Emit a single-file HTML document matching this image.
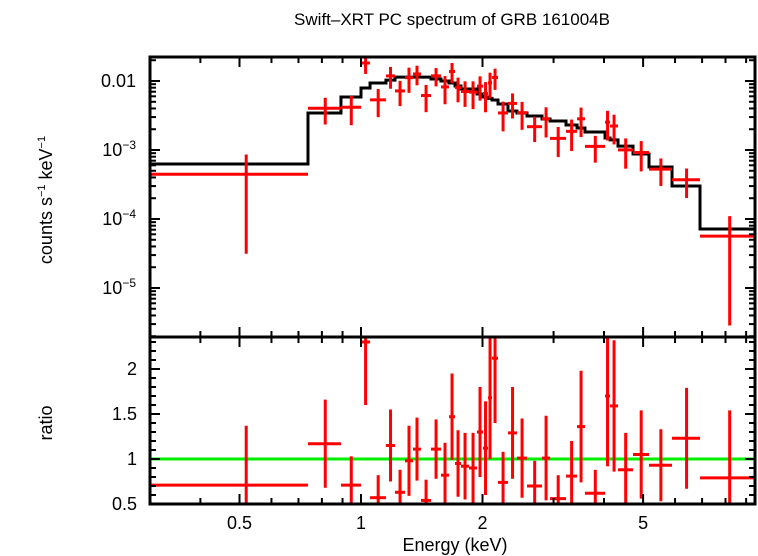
<!DOCTYPE html>
<html><head><meta charset="utf-8"><style>
html,body{margin:0;padding:0;background:#fff;}
svg{display:block;}
text{font-family:"Liberation Sans",sans-serif;fill:#000;}
</style></head><body>
<svg id="chart" width="758" height="556" viewBox="0 0 758 556" xmlns="http://www.w3.org/2000/svg">
<text x="452" y="25" font-size="17" text-anchor="middle">Swift–XRT PC spectrum of GRB 161004B</text>
<text x="455" y="551" font-size="18" text-anchor="middle">Energy (keV)</text>
<text transform="translate(52,200) rotate(-90)" font-size="18" text-anchor="middle">counts s<tspan dy="-7" font-size="11">−1</tspan><tspan dy="7"> keV</tspan><tspan dy="-7" font-size="11">−1</tspan></text>
<text transform="translate(52,423) rotate(-90)" font-size="18" text-anchor="middle">ratio</text>
<g id="layer"></g>
</svg>
<script>
// bin edges (keV)
const binEdges = [0.300,0.739,0.892,1.000,1.053,1.153,1.214,1.285,1.345,1.408,1.491,1.578,1.652,1.710,1.769,1.852,1.938,2.006,2.064,2.112,2.185,2.313,2.435,2.578,2.809,2.940,3.221,3.430,3.589,4.024,4.140,4.333,4.721,5.171,5.897,6.918,9.47];
// model (counts s^-1 keV^-1) per bin
const modelVals = [6.27e-4,3.44e-3,5.87e-3,7.92e-3,9.35e-3,0.0103,0.0114,0.0114,0.0114,0.0114,0.0107,0.0100,0.00935,0.00847,0.00766,0.00766,0.00649,0.00587,0.0056,0.00531,0.00465,0.00367,0.00344,0.00311,0.00281,0.00263,0.0023,0.00208,0.00182,0.00149,0.0014,0.00114,8.75e-4,5.67e-4,3.01e-4,7.16e-5];
// data/model ratio per bin
const ratioVals = [0.71,1.17,0.71,2.30,0.57,1.15,0.63,0.98,1.11,0.54,1.11,0.82,1.47,0.95,0.92,0.90,1.30,1.12,1.68,2.12,0.74,1.29,1.01,0.70,1.01,0.56,0.81,1.36,0.62,1.70,1.59,0.88,1.05,0.93,1.23,0.79];
const ratioErrs = [0.66,0.49,0.32,0.70,0.25,0.40,0.25,0.39,0.35,0.23,0.33,0.36,0.48,0.37,0.37,0.39,0.50,0.52,0.68,0.72,0.34,0.51,0.44,0.28,0.47,0.26,0.39,0.62,0.26,0.78,0.73,0.41,0.49,0.40,0.56,0.75];
const xTicksMajor = [0.5,1,2,5];
const xTickLabels = ["0.5","1","2","5"];
const yTopMajor = [1e-2,1e-3,1e-4,1e-5];
const yRatioMajor = [0.5,1,1.5,2];
const yRatioLabels = ["0.5","1","1.5","2"];

const NS="http://www.w3.org/2000/svg";
const L=150,R=755,T1=57,B1=337,T2=337,B2=504;
const X=e=>361+403.6*Math.log10(e);
const Y1=v=>81-69*(Math.log10(v)+2);
const Y2=r=>504-90*(r-0.5);
const layer=document.getElementById('layer');
function el(tag,attrs,parent){const e=document.createElementNS(NS,tag);for(const k in attrs)e.setAttribute(k,attrs[k]);(parent||layer).appendChild(e);return e;}

const defs=el('defs',{});
const c1=el('clipPath',{id:'c1'},defs);el('rect',{x:L,y:T1,width:R-L,height:B1-T1},c1);
const c2=el('clipPath',{id:'c2'},defs);el('rect',{x:L,y:T2,width:R-L,height:B2-T2},c2);

let d='';
for(let i=0;i<modelVals.length;i++){const x0=X(binEdges[i]),x1=X(binEdges[i+1]),y=Y1(modelVals[i]);d+=(i?'L':'M')+x0+','+y+'L'+x1+','+y;}
const mp=el('path',{d:d,fill:'none',stroke:'#000','stroke-width':3,'clip-path':'url(#c1)'});



const gl=el('line',{x1:L,x2:R,y1:Y2(1),y2:Y2(1),stroke:'#00ee00','stroke-width':3});



for(let i=0;i<ratioVals.length;i++){
  const lo=binEdges[i],hi=binEdges[i+1],ec=(lo+hi)/2;
  const xc=X(ec),x0=X(lo),x1=X(hi);
  const m=modelVals[i],r=ratioVals[i],s=ratioErrs[i];
  const v=m*r,vu=m*(r+s),vl=m*(r-s);
  const g1=el('g',{stroke:'#ff0000','stroke-width':3,'clip-path':'url(#c1)'});
  
  
  el('line',{x1:x0,x2:x1,y1:Y1(v),y2:Y1(v)},g1);
  el('line',{x1:xc,x2:xc,y1:Y1(vu),y2:vl>0?Y1(vl):B1+5},g1);
  const g2=el('g',{stroke:'#ff0000','stroke-width':3,'clip-path':'url(#c2)'});
  
  
  el('line',{x1:x0,x2:x1,y1:Y2(r),y2:Y2(r)},g2);
  el('line',{x1:xc,x2:xc,y1:Y2(r+s),y2:Y2(r-s)},g2);
}

const f1=el('rect',{x:L,y:T1,width:R-L,height:B1-T1,fill:'none',stroke:'#000','stroke-width':3});


const f2=el('rect',{x:L,y:T2,width:R-L,height:B2-T2,fill:'none',stroke:'#000','stroke-width':3});



const tk=el('g',{stroke:'#000','stroke-width':2});


const xMinor=[];
for(const dec of [0.1,1]){for(let k=1;k<10;k++){const e=k*dec;if(e>=0.3&&e<=9.5)xMinor.push(e);}}
xMinor.forEach(e=>{const x=X(e),len=(e===1||e===0.5||e===2||e===5)?10:6;
  [[T1,1],[B1,-1],[T2,1],[B2,-1]].forEach(([y,s])=>el('line',{x1:x,x2:x,y1:y,y2:y+s*len},tk));});
xTicksMajor.forEach((e,i)=>{
  const t=el('text',{x:X(e),y:529,'font-size':18,'text-anchor':'middle'});
  t.textContent=xTickLabels[i];
  
  
});
for(let p=-6;p<=-1;p++){for(let k=1;k<10;k++){const v=k*Math.pow(10,p);const y=Y1(v);if(y<T1||y>B1)continue;const len=k===1?10:6;
  el('line',{x1:L,x2:L+len,y1:y,y2:y},tk);el('line',{x1:R,x2:R-len,y1:y,y2:y},tk);}}
const topLabels=[['0.01',null],['10','−3'],['10','−4'],['10','−5']];
yTopMajor.forEach((v,i)=>{
  const t=el('text',{x:136,y:Y1(v)+6,'font-size':18,'text-anchor':'end'});
  
  
  if(topLabels[i][1]){t.textContent=topLabels[i][0];const ts=el('tspan',{dy:-7,'font-size':12},t);ts.textContent=topLabels[i][1];}
  else t.textContent=topLabels[i][0];
});
for(let r=0.5;r<=2.35;r+=0.1){const y=Y2(r);const maj=Math.abs(r*2-Math.round(r*2))<1e-6;const len=maj?10:6;
  el('line',{x1:L,x2:L+len,y1:y,y2:y},tk);el('line',{x1:R,x2:R-len,y1:y,y2:y},tk);}
yRatioMajor.forEach((r,i)=>{
  const t=el('text',{x:137,y:Y2(r)+6,'font-size':18,'text-anchor':'end'});
  t.textContent=yRatioLabels[i];
  
  
});
</script>
</body></html>
